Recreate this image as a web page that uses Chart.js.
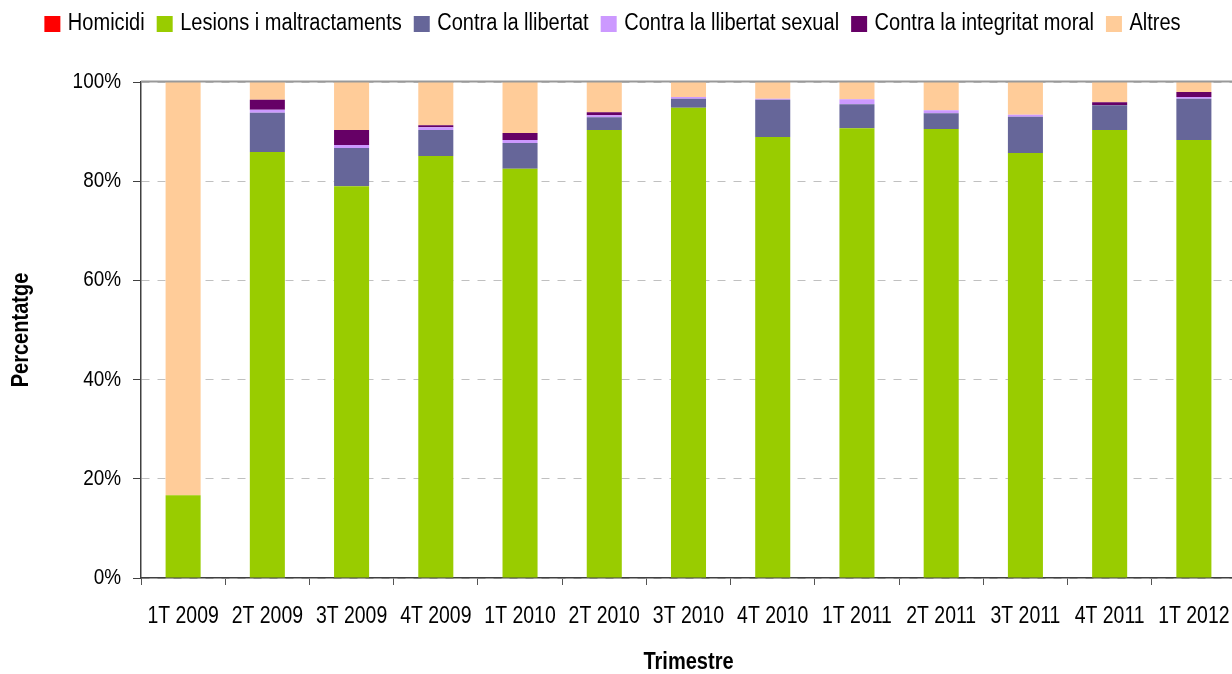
<!DOCTYPE html>
<html>
<head>
<meta charset="utf-8">
<script src="https://cdn.jsdelivr.net/npm/chart.js@4/dist/chart.umd.min.js"></script>
<style>
html,body{margin:0;padding:0;background:#fff;overflow:hidden;width:1232px;height:674px;}
#wrap{width:1236px;height:674px;}
</style>
</head>
<body>
<div id="wrap"><canvas id="c" width="1236" height="674"></canvas></div>
<script>
const categories = ['1T 2009','2T 2009','3T 2009','4T 2009','1T 2010','2T 2010','3T 2010','4T 2010','1T 2011','2T 2011','3T 2011','4T 2011','1T 2012'];
const homicidi  = [0, 0, 0, 0, 0, 0, 0, 0, 0, 0, 0, 0, 0];
const lesions   = [16.7, 85.9, 79.0, 85.1, 82.5, 90.3, 94.8, 88.9, 90.7, 90.5, 85.7, 90.3, 88.3];
const llibertat = [0, 7.9, 7.7, 5.2, 5.2, 2.6, 1.8, 7.5, 4.8, 3.2, 7.3, 5.0, 8.3];
const sexual    = [0, 0.6, 0.6, 0.6, 0.6, 0.4, 0.4, 0.2, 1.0, 0.6, 0.4, 0.0, 0.4];
const moral     = [0, 2.0, 3.0, 0.4, 1.4, 0.6, 0, 0, 0, 0, 0, 0.6, 1.0];
const altres    = [83.3, 3.6, 9.7, 8.7, 10.3, 6.1, 3.0, 3.4, 3.5, 5.7, 6.6, 4.1, 2.0];
const yTicks = [0, 20, 40, 60, 80, 100];

// Condensed text rendering (narrow sans look); text stays real canvas text
(function(){
  const factor = (font) => {
    const m = /(\d+(?:\.\d+)?)px/.exec(font || '');
    const s = m ? parseFloat(m[1]) : 12;
    if (s >= 24) return 0.81;
    if (s >= 23) return 0.871;
    return 0.86;
  };
  const proto = CanvasRenderingContext2D.prototype;
  const oFill = proto.fillText, oMeasure = proto.measureText;
  proto.fillText = function(t, x, y) {
    const sx = factor(this.font);
    this.save(); this.translate(x, y); this.scale(sx, 1); oFill.call(this, t, 0, 0); this.restore();
  };
  proto.measureText = function(t) {
    const sx = factor(this.font);
    const m = oMeasure.call(this, t);
    return {
      width: m.width * sx,
      actualBoundingBoxLeft: m.actualBoundingBoxLeft * sx,
      actualBoundingBoxRight: m.actualBoundingBoxRight * sx,
      actualBoundingBoxAscent: m.actualBoundingBoxAscent,
      actualBoundingBoxDescent: m.actualBoundingBoxDescent,
      fontBoundingBoxAscent: m.fontBoundingBoxAscent,
      fontBoundingBoxDescent: m.fontBoundingBoxDescent
    };
  };
})();

const FONT = "'Liberation Sans',Arial,sans-serif";
Chart.defaults.color = '#000';
Chart.defaults.font.family = FONT;

const mk = (label, data, color) => ({label, data, backgroundColor: color, borderWidth: 0, barPercentage: 0.416, categoryPercentage: 1});

function swatch(color) {
  const c = document.createElement('canvas');
  c.width = 32; c.height = 16;
  const g = c.getContext('2d');
  g.fillStyle = color;
  g.fillRect(10, 0, 16, 16);
  return c;
}

const legendPatch = {
  id: 'legendPatch',
  afterInit(chart) {
    const lg = chart.legend;
    if (!lg) return;
    const fit = lg.fit;
    lg.fit = function() { fit.call(this); this.height = 82; };
  },
  afterLayout(chart) {
    if (chart.legend) chart.legend.right -= 11;
  }
};
const topLine = {
  id: 'topLine',
  afterDatasetsDraw(chart) {
    const y = chart.scales.y.getPixelForValue(100);
    const ctx = chart.ctx, a = chart.chartArea;
    ctx.save();
    ctx.strokeStyle = '#999999';
    ctx.lineWidth = 2;
    ctx.beginPath();
    ctx.moveTo(a.left, y - 0.5);
    ctx.lineTo(a.right, y - 0.5);
    ctx.stroke();
    ctx.restore();
  }
};

new Chart(document.getElementById('c'), {
  type: 'bar',
  data: {
    labels: categories,
    datasets: [
      mk('Homicidi', homicidi, '#FF0000'),
      mk('Lesions i maltractaments', lesions, '#99CC00'),
      mk('Contra la llibertat', llibertat, '#666699'),
      mk('Contra la llibertat sexual', sexual, '#CC99FF'),
      mk('Contra la integritat moral', moral, '#660066'),
      mk('Altres', altres, '#FFCC99')
    ]
  },
  options: {
    responsive: false,
    animation: false,
    layout: {padding: 0},
    plugins: {
      tooltip: {enabled: false},
      legend: {
        position: 'top',
        labels: {
          font: {size: 23, family: FONT},
          usePointStyle: true,
          pointStyleWidth: 12,
          boxHeight: 16,
          padding: 12,
          color: '#000',
          generateLabels(chart) {
            const items = Chart.defaults.plugins.legend.labels.generateLabels(chart);
            items.forEach(it => { it.pointStyle = swatch(it.fillStyle); });
            return items;
          }
        }
      }
    },
    scales: {
      x: {
        stacked: true,
        afterFit(s) { s.height = 96; s.paddingLeft = 0; s.paddingRight = 0; },
        grid: {display: true, drawOnChartArea: false, drawTicks: true, tickLength: 7, tickColor: '#555', offset: true},
        border: {display: true, color: '#404040', width: 1.5},
        ticks: {font: {size: 24, family: FONT}, padding: 17, maxRotation: 0, autoSkip: false, color: '#000'},
        title: {display: true, text: 'Trimestre', font: {size: 23, weight: 'bold', family: FONT, lineHeight: 1}, padding: {top: 0, bottom: 0}, color: '#000'}
      },
      y: {
        stacked: true,
        min: 0, max: 100,
        afterFit(s) { s.width = 141; },
        afterBuildTicks(s) { s.ticks = yTicks.map(v => ({value: v})); },
        grid: {color: '#c0c0c0', lineWidth: 1, drawTicks: true, tickLength: 8, tickColor: '#404040', tickBorderDash: [], tickWidth: 1},
        border: {display: true, color: '#404040', width: 1.5, dash: [8, 8]},
        ticks: {font: {size: 22, family: FONT}, padding: 12, color: '#000', callback: v => v + '%'},
        title: {display: true, text: 'Percentatge', font: {size: 23, weight: 'bold', family: FONT, lineHeight: 1}, padding: {top: 10, bottom: 0}, color: '#000'}
      }
    }
  },
  plugins: [legendPatch, topLine]
});
</script>
</body>
</html>
